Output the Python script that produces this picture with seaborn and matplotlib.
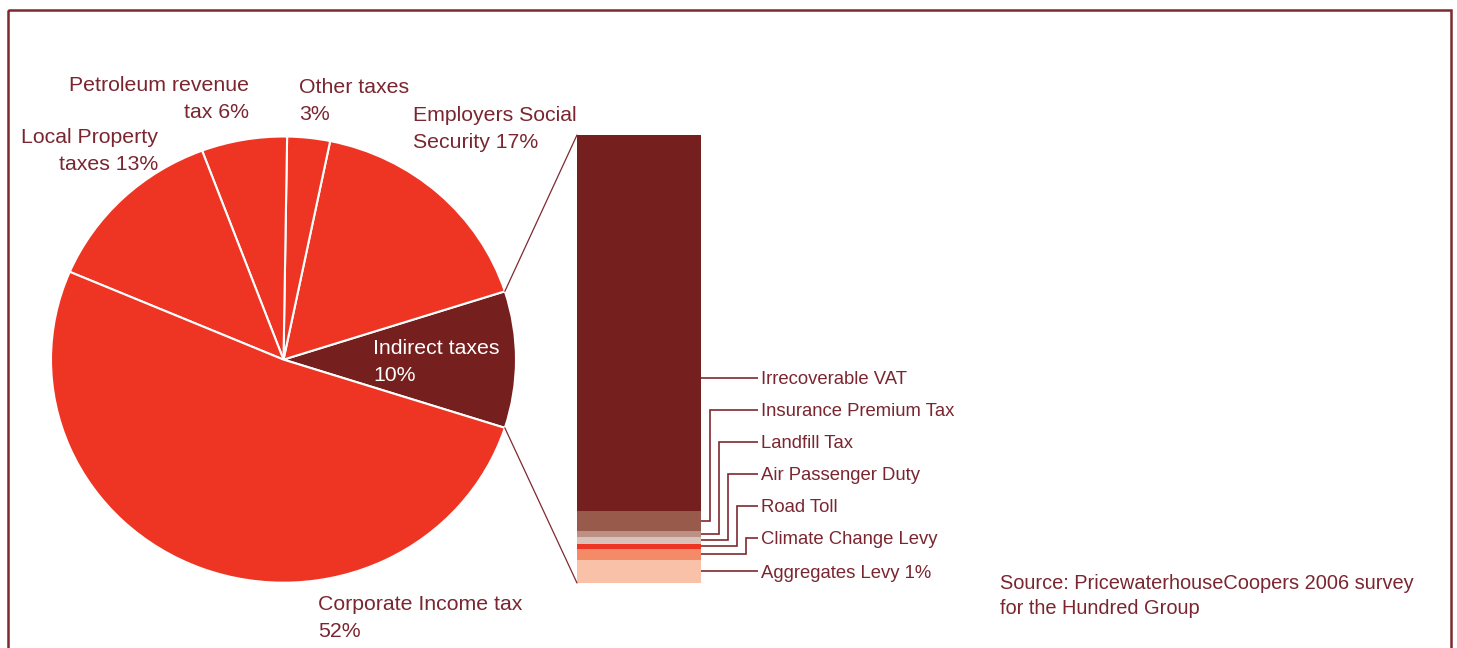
import numpy as np
import matplotlib
matplotlib.use("Agg")
import matplotlib.pyplot as plt
import seaborn as sns
from matplotlib.patches import ConnectionPatch, Rectangle

# Total tax contribution by tax type (%), counter-clockwise from the exploded slice
tax_types = ["Indirect taxes", "Employers Social Security", "Other taxes",
             "Petroleum revenue tax", "Local Property taxes", "Corporate Income tax"]
tax_share = [10, 17, 3, 6, 13, 52]
tax_labels = ["Indirect taxes\n10%", "Employers Social\nSecurity 17%", "Other taxes\n3%",
              "Petroleum revenue\ntax 6%", "Local Property\ntaxes 13%",
              "Corporate Income tax\n52%"]

# Breakdown of the indirect taxes, bottom of the column to the top
indirect_types = ["Aggregates Levy", "Climate Change Levy", "Road Toll",
                  "Air Passenger Duty", "Landfill Tax", "Insurance Premium Tax",
                  "Irrecoverable VAT"]
indirect_share = [1.0, 0.48, 0.22, 0.30, 0.26, 0.87, 16.35]
indirect_labels = ["Aggregates Levy 1%", "Climate Change Levy", "Road Toll",
                   "Air Passenger Duty", "Landfill Tax", "Insurance Premium Tax",
                   "Irrecoverable VAT"]

source_text = "Source: PricewaterhouseCoopers 2006 survey\nfor the Hundred Group"

RED = "#EE3524"
DARK = "#75201F"
TEXT = "#7A2630"
LINE = "#7E2A30"
pie_colors = [DARK, RED, RED, RED, RED, RED]
column_colors = ["#F9C2A8", "#F58A68", "#EE3524", "#D8C2BA", "#BC9082", "#985A4B", DARK]

sns.set_theme(style="white")
plt.rcParams["font.family"] = ["Liberation Sans", "DejaVu Sans"]

W, H = 1457, 648
fig = plt.figure(figsize=(W / 100, H / 100), dpi=100)


def box(x0, y0, x1, y1):
    """Figure-fraction rectangle from pixel bounds (origin top-left)."""
    return [x0 / W, (H - y1) / H, (x1 - x0) / W, (y1 - y0) / H]


# --- pie -------------------------------------------------------------------
pie_ax = fig.add_axes(box(51, 136.5, 516, 582.7))
start = -180.0 * tax_share[0] / sum(tax_share)
wedges, _ = pie_ax.pie(tax_share, colors=pie_colors, startangle=start,
                       counterclock=True, radius=1.0,
                       wedgeprops=dict(edgecolor="white", linewidth=1.5))
pie_ax.set_aspect("auto")
pie_ax.set_xlim(-1, 1)
pie_ax.set_ylim(-1, 1)
pie_ax.axis("off")

# --- indirect tax column ---------------------------------------------------
col_x0, col_x1, col_top, col_bot = 577, 701, 135, 583
bar_ax = fig.add_axes(box(col_x0, col_top, col_x1, col_bot))
cum = np.cumsum(indirect_share)
total = cum[-1]
for top, color in zip(cum[::-1], column_colors[::-1]):
    sns.barplot(x=["Indirect"], y=[top], color=color, saturation=1, width=1,
                linewidth=0, errorbar=None, ax=bar_ax)
bar_ax.set_xlim(-0.5, 0.5)
bar_ax.set_ylim(0, total)
bar_ax.axis("off")

# Lines linking the indirect slice to the column
th1 = np.deg2rad(start + 360.0 * tax_share[0] / sum(tax_share))
th0 = np.deg2rad(start)
for th, yb in ((th1, total), (th0, 0.0)):
    con = ConnectionPatch(xyA=(np.cos(th), np.sin(th)), coordsA=pie_ax.transData,
                          xyB=(-0.5, yb), coordsB=bar_ax.transData,
                          color=LINE, linewidth=0.9)
    fig.add_artist(con)

# --- overlay in pixel coordinates -----------------------------------------
ov = fig.add_axes([0, 0, 1, 1])
ov.set_xlim(0, W)
ov.set_ylim(H, 0)
ov.axis("off")
ov.set_zorder(10)
ov.patch.set_alpha(0)

ov.add_patch(Rectangle((7.5, 10), 1443, 700, fill=False, edgecolor="#7B2A2E",
                       linewidth=1.8, clip_on=False))

# Leader lines and labels for the column
label_x = 761
label_y = [571, 538, 506, 474, 442, 410, 378]
elbow_x = [None, 745.7, 736.7, 727.7, 718.7, 709.7, None]
bottoms = np.concatenate([[0], cum[:-1]])
col_h = col_bot - col_top
for i, (lab, v, b) in enumerate(zip(indirect_labels, indirect_share, bottoms)):
    seg_lo = col_bot - b / total * col_h
    seg_hi = col_bot - (b + v) / total * col_h
    mid = col_bot - (b + v / 2) / total * col_h
    ly = label_y[i]
    if seg_hi <= ly <= seg_lo or elbow_x[i] is None:
        ov.plot([col_x1, label_x - 3], [ly, ly], color=LINE, lw=1.2,
                solid_capstyle="butt")
    else:
        ex = elbow_x[i]
        ov.plot([col_x1, ex, ex, label_x - 3], [mid, mid, ly, ly], color=LINE,
                lw=1.2, solid_joinstyle="miter", solid_capstyle="butt")
    ov.text(label_x, ly + 2, lab, color=TEXT, fontsize=13.3, ha="left", va="center")

# Pie labels
pie_label_pos = [(373, 362, "left", "white"),
                 (413, 129, "left", TEXT),
                 (299, 101, "left", TEXT),
                 (249, 99, "right", TEXT),
                 (158, 151, "right", TEXT),
                 (318, 618, "left", TEXT)]
for lab, (x, y, ha, c) in zip(tax_labels, pie_label_pos):
    ov.text(x, y, lab, color=c, fontsize=15.3, ha=ha, va="center", linespacing=1.5)

ov.text(1000, 596, source_text, color=TEXT, fontsize=14.4, ha="left", va="center",
        linespacing=1.4)

fig.savefig("out.png", dpi=100)
